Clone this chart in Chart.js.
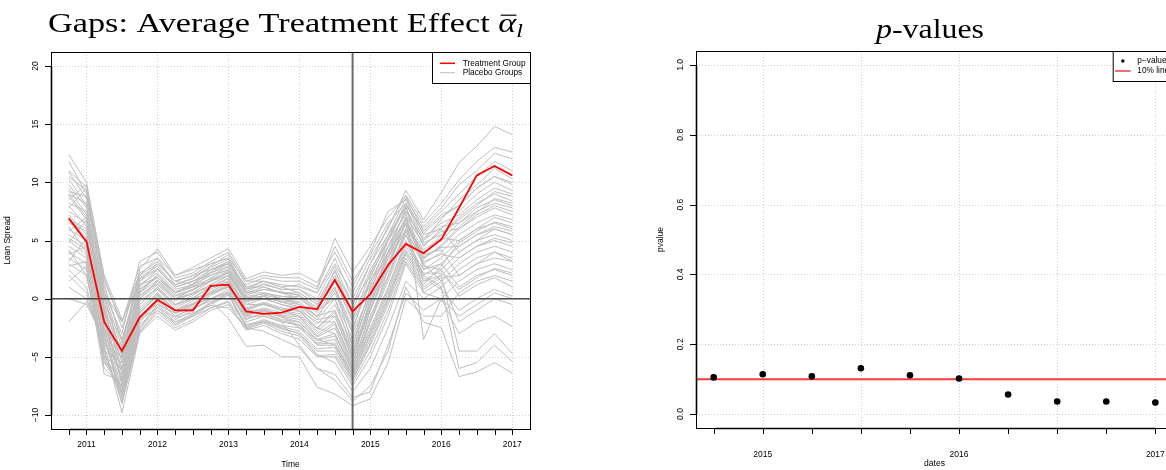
<!DOCTYPE html>
<html>
<head>
<meta charset="utf-8">
<script src="https://cdn.jsdelivr.net/npm/chart.js@4.4.0/dist/chart.umd.min.js"></script>
<style>
  html, body { margin:0; padding:0; background:#fff; overflow:hidden; width:1166px; height:470px; }
  #gapChart { position:absolute; left:0; top:0; }
  #pvalChart { position:absolute; left:583px; top:0; }
</style>
</head>
<body>
<canvas id="gapChart" width="583" height="470"></canvas>
<canvas id="pvalChart" width="620" height="470"></canvas>
<script>
/* ===== data: gaps panel ===== */
const quarters = [2010.75, 2011, 2011.25, 2011.5, 2011.75, 2012, 2012.25, 2012.5, 2012.75, 2013, 2013.25, 2013.5, 2013.75,
                  2014, 2014.25, 2014.5, 2014.75, 2015, 2015.25, 2015.5, 2015.75, 2016, 2016.25, 2016.5, 2016.75, 2017];
const treatment = [6.9, 4.9, -2.0, -4.5, -1.6, -0.1, -1.0, -1.0, 1.1, 1.2, -1.1, -1.3, -1.2,
                   -0.7, -0.9, 1.6, -1.1, 0.4, 2.9, 4.7, 3.9, 5.1, 7.8, 10.6, 11.4, 10.6];
const placebo = [
  [12.4,10.0, 1.8,-2.5, 2.0, 3.0, 1.5, 2.0, 3.0, 3.5, 0.8, 1.5, 1.0, 1.2, 0.5, 3.0, 0.5, 3.5, 6.0, 9.3, 6.8, 9.1,11.7,13.1,14.8,14.1],
  [11.8, 9.0, 1.0,-3.5, 1.5, 2.5, 1.0, 1.5, 2.5, 3.0, 0.5, 1.0, 0.5, 0.5,-0.5, 2.0,-1.0, 2.5, 5.0, 8.0, 6.0, 7.5, 9.0,10.5,11.8,11.0],
  [10.9, 8.6, 0.5,-4.2, 0.8, 2.0, 0.5, 1.0, 2.2, 2.8, 0.0, 0.5, 0.2, 0.0,-1.2, 1.0,-2.5, 1.5, 4.5, 7.5, 5.0, 6.8, 8.5, 9.8,11.2,10.3],
  [10.3, 8.0, 0.0,-5.0, 0.2, 1.5, 0.0, 0.8, 1.8, 2.5,-0.3, 0.2,-0.3,-0.5,-1.8, 0.0,-3.5, 0.8, 4.0, 7.8, 4.5, 6.0, 7.5, 9.0,10.0, 9.3],
  [ 9.8, 7.8,-0.5,-5.5, 0.0, 1.2,-0.2, 0.5, 1.5, 2.2,-0.5, 0.0,-0.5,-0.8,-2.2,-0.5,-4.0, 0.2, 3.5, 7.0, 4.8, 5.5, 7.0, 8.2, 9.0, 8.4],
  [ 9.5, 7.2,-1.0,-6.0,-0.5, 1.0,-0.5, 0.3, 1.2, 2.0,-0.8,-0.3,-0.8,-1.0,-2.5,-1.0,-4.5,-0.5, 3.0, 6.5, 4.0, 5.0, 6.5, 7.8, 8.5, 8.0],
  [ 9.0, 8.2,-0.8,-6.5,-0.8, 0.8,-0.8, 0.0, 1.0, 1.8,-1.0,-0.5,-1.0,-1.3,-2.8,-1.5,-5.0,-1.0, 2.5, 6.8, 3.5, 4.5, 6.0, 7.2, 8.0, 7.5],
  [ 8.8, 6.8,-1.5,-7.0,-1.0, 0.5,-1.0,-0.2, 0.8, 1.5,-1.2,-0.8,-1.2,-1.5,-3.0,-2.0,-5.5,-1.5, 2.0, 6.0, 3.8, 5.5, 6.8, 8.0, 9.2, 8.8],
  [ 8.2, 7.5,-1.2,-7.5,-1.2, 0.2,-1.2,-0.5, 0.5, 1.2,-1.5,-1.0,-1.5,-1.8,-3.3,-2.5,-6.0,-2.0, 1.5, 5.5, 3.0, 4.0, 5.5, 6.5, 7.2, 6.8],
  [ 8.0, 6.2,-2.0,-8.0,-1.5, 0.0,-1.5,-0.8, 0.3, 1.0,-1.8,-1.2,-1.8,-2.0,-3.5,-3.0,-6.3,-2.5, 1.0, 5.0, 2.5, 3.5, 5.0, 6.0, 7.0, 6.5],
  [ 7.5, 6.5,-2.5,-8.5,-2.0,-0.3,-1.8,-1.0, 0.0, 0.8,-2.0,-1.5,-2.0,-2.3,-3.8,-3.5,-6.5,-3.0, 0.5, 4.5, 2.0, 3.0, 4.5, 5.5, 6.2, 5.8],
  [ 7.2, 5.5,-3.0,-9.0,-2.5,-0.5,-2.0,-1.3,-0.3, 0.5,-2.3,-1.8,-2.3,-2.5,-4.0,-4.0,-6.8,-3.5, 0.0, 4.0, 1.5, 2.5, 4.0, 5.0, 5.5, 5.0],
  [ 6.5, 5.8,-3.5,-8.5,-2.8,-1.0,-2.3,-1.5,-0.5, 0.3,-2.5,-2.0,-2.5,-3.0,-4.5,-4.5,-7.0,-4.0,-0.5, 3.5, 1.0, 2.0, 3.5, 4.5, 5.0, 4.5],
  [ 6.0, 5.0,-4.0,-9.8,-3.0,-1.5,-2.7,-2.0,-1.0,-0.5,-2.7,-2.3,-3.0,-3.5,-5.0,-5.0,-7.5,-5.0,-1.5, 3.0, 0.5, 1.5, 3.0, 4.0, 4.5, 4.0],
  [ 5.5, 4.5,-4.5,-8.8,-2.2,-1.0,-2.0,-1.5,-0.8,-0.2,-2.2,-2.0,-2.6,-3.0,-4.8,-5.5,-8.0,-6.0,-2.5, 1.5, 0.0, 1.0, 2.5, 3.5, 4.0, 3.5],
  [ 5.0, 3.8,-5.0,-8.2,-1.8,-0.8,-1.6,-1.2,-0.6,-0.8,-2.5,-2.8,-3.5,-4.2,-6.0,-6.5,-8.5,-8.0,-4.0, 0.5,-1.0, 0.0, 1.5, 2.5, 3.0, 2.5],
  [ 4.5, 3.5,-5.5,-7.8,-1.5,-0.5,-1.2,-0.8,-0.2,-1.7,-4.1,-4.0,-5.0,-5.0,-7.6,-8.2,-9.2,-8.6,-5.5, 0.0,-1.5,-1.5, 0.5, 1.5, 2.0, 1.5],
  [ 4.0, 3.0,-6.0,-7.5,-1.0, 0.5,-1.0,-0.5, 0.0, 0.5,-1.5,-1.5,-2.0,-4.0,-6.0,-7.0,-8.8,-7.5,-4.5, 1.0,-2.0,-2.5,-6.7,-6.3,-5.5,-6.4],
  [ 3.5, 2.5,-6.5,-7.0,-0.5, 1.0,-0.5, 0.0, 0.5, 1.0,-1.0,-1.0,-1.5,-2.5,-3.5,-4.0,-6.5,-2.0, 2.5, 5.5, 2.0, 1.0,-6.0,-5.5,-4.0,-5.4],
  [ 3.0, 2.0,-5.5,-6.5, 0.0, 1.5, 0.0, 0.5, 1.0, 1.5,-0.5,-0.5,-1.0,-1.5,-2.5,-3.0,-6.0,-1.0, 3.0, 6.0, 1.5, 2.0,-4.5,-4.5,-3.0,-4.7],
  [ 2.5, 1.0,-5.0,-6.0, 0.5, 2.0, 0.5, 1.0, 1.5, 2.0, 0.0, 0.0,-0.5,-1.0,-2.0,-2.0,-5.5,-0.5, 3.5, 6.5, 0.5, 0.0,-3.0,-2.0,-1.5,-2.4],
  [ 2.0, 0.5,-4.5,-5.5, 1.0, 2.5, 1.0, 1.5, 2.0, 2.5, 0.5, 0.5, 0.0,-0.5,-1.5,-1.0,-5.0, 0.0, 4.0, 7.0, 3.0, 1.5,-2.0,-1.0, 0.0,-0.5],
  [ 1.0, 0.0,-4.0,-5.0, 1.5, 3.0, 1.5, 2.0, 2.5, 3.0, 1.0, 1.0, 0.5, 0.0,-1.0, 0.0,-4.5, 0.5, 4.5, 7.5,-3.5, 0.0,-1.5,-0.5, 0.5, 0.0],
  [ 0.0,-0.5,-3.5,-4.5, 2.0, 3.5, 2.0, 2.5, 3.0, 3.5, 1.5, 1.5, 1.0, 0.5,-0.5, 1.0,-4.0, 1.0, 5.0, 8.0, 2.5, 3.0, 1.0, 2.0, 2.5, 2.0],
  [-2.0,-0.3,-3.0,-4.0, 2.5, 4.3, 2.0, 2.7, 3.5, 4.3, 1.7, 2.3, 2.0, 2.2, 1.4, 4.0, 1.0, 4.0, 7.5, 8.5, 5.5, 6.0, 4.0, 5.0, 6.0, 5.5],
  [ 9.2, 8.8, 0.5,-3.0, 3.2, 4.0, 1.8, 2.2, 3.2, 4.0, 1.5, 2.0, 1.8, 1.8, 1.0, 5.2, 2.3, 4.5, 7.0, 8.8, 5.8, 7.2, 8.0, 9.5,10.5, 9.8],
  [ 7.8, 9.5, 1.5,-2.0, 2.8, 3.5, 1.2, 1.8, 2.8, 3.8, 1.2, 1.8, 1.5, 1.5, 0.8, 4.5, 1.5, 3.8, 6.5, 8.2, 5.2, 6.5, 7.2, 8.5, 9.5, 9.0],
  [ 6.8, 6.0, 0.5,-2.0, 2.2, 3.2, 1.5, 1.2, 2.5, 3.2, 1.0, 1.5, 1.2, 1.0, 0.5, 3.5, 0.0, 3.0, 5.5, 7.8, 5.0, 6.2, 6.5, 7.5, 8.2, 7.8],
  [ 5.8, 7.0,-0.5,-3.5, 1.8, 2.8, 1.0, 1.5, 2.2, 3.0, 0.8, 1.2, 0.8, 0.8, 0.0, 2.8,-0.5, 2.0, 5.0, 7.2, 4.6, 5.8, 6.0, 7.0, 7.8, 7.2],
  [ 4.8, 6.8,-1.0,-4.5, 1.2, 2.2, 0.8, 1.2, 2.0, 2.7, 0.5, 0.8, 0.5, 0.3,-0.8, 2.5,-1.5, 1.5, 4.5, 6.8, 4.2, 5.2, 5.0, 6.0, 6.5, 6.0],
  [ 3.8, 4.5,-2.0,-5.2, 0.8, 1.8, 0.3, 0.8, 1.5, 2.4, 0.2, 0.4, 0.2, 0.2,-1.0, 1.5,-2.0, 1.2, 4.0, 6.3, 3.6, 4.4, 4.5, 5.5, 6.0, 5.5],
  [ 3.2, 5.2,-2.5,-6.0, 0.3, 1.3, 0.0, 0.4, 1.2, 2.0,-0.2, 0.0,-0.2,-0.3,-1.5, 0.5,-3.0, 0.5, 3.5, 5.8, 3.2, 3.8, 3.5, 4.5, 5.2, 4.8],
  [ 8.5, 9.8, 2.0,-1.8, 1.2, 1.8, 0.5, 1.3, 2.3, 3.2, 0.3, 0.8, 0.6, 0.3,-0.8, 1.8,-1.8, 2.2, 5.5, 8.6, 6.2, 7.8, 9.8,11.0,12.5,12.0],
  [10.5, 9.3, 0.2,-4.8, 0.5, 1.6, 0.2, 0.7, 1.6, 2.3,-0.2, 0.3, 0.0,-0.3,-1.6, 0.8,-2.8, 1.8, 5.2, 8.2, 5.6, 7.0, 8.0, 9.5,10.5,10.0],
  [ 9.0, 7.0,-1.8,-7.2,-1.3, 0.4,-1.3,-0.6, 0.6, 1.4,-1.4,-0.9,-1.4,-1.6,-3.2,-2.2,-5.8,-1.8, 1.8, 5.8, 3.4, 4.6, 6.2, 7.4, 8.6, 8.2],
  [ 7.0, 5.2,-3.2,-8.2,-2.6,-0.7,-2.2,-1.4,-0.4, 0.4,-2.4,-1.9,-2.4,-2.8,-4.3,-4.2,-6.9,-3.8,-0.2, 3.8, 1.2, 2.8, 4.8, 5.8, 6.6, 6.2],
  [ 5.2, 4.2,-4.2,-9.0,-2.9,-1.2,-2.5,-1.8,-0.8,-0.3,-2.6,-2.1,-2.8,-3.2,-4.9,-4.8,-7.2,-4.5,-1.0, 3.2, 0.8, 1.8, 2.0, 3.0, 3.5, 3.2],
  [ 1.5, 2.8,-3.8,-6.2, 0.6, 2.0, 0.6, 1.1, 1.7, 2.2, 0.1, 0.2,-0.3,-0.7,-1.8,-1.5,-5.2,-0.3, 3.8, 6.8, 2.8, 2.5, 0.2, 1.2, 1.8, 1.0],
  [ 6.2, 4.0,-2.8,-6.8,-0.2, 0.9,-0.6, 0.1, 1.0, 1.7,-0.9,-0.4,-0.9,-1.1,-2.6,-1.2,-4.8,-0.8, 2.8, 6.5, 3.8, 4.2, 2.0, 3.0, 4.0, 3.2],
  [ 4.2, 2.0,-4.8,-7.6,-1.8,-0.2,-1.5,-0.9, 0.0, 0.6,-1.7,-1.3,-1.9,-2.2,-3.9,-3.8,-6.6,-3.2, 0.2, 4.2, 1.8, 0.8,-1.0, 0.0, 0.8, 0.2],
  [11.0, 9.6, 1.2,-3.8, 1.7, 2.6, 1.2, 1.7, 2.7, 3.4, 0.6, 1.3, 0.8, 0.8,-0.3, 2.3,-0.5, 3.0, 6.2, 8.9, 6.5, 8.2,10.2,11.8,13.0,12.6],
  [ 2.8, 3.2,-5.2,-8.0,-1.2, 0.3,-1.0,-0.4, 0.4, 1.1,-1.3,-1.1,-1.6,-2.0,-3.6,-3.2,-6.2,-2.8, 0.8, 4.8, 2.2, 2.2, 0.8, 1.8, 2.6, 2.2],
];
const treatmentStart = 2014.75;
const gapYTicks = [-10, -5, 0, 5, 10, 15, 20];
const gapYLabels = ['\u221210', '\u22125', '0', '5', '10', '15', '20'];
const gapYears = [2011, 2012, 2013, 2014, 2015, 2016, 2017];

/* ===== data: p-value panel ===== */
const pvalDates = [2014.75, 2015, 2015.25, 2015.5, 2015.75, 2016, 2016.25, 2016.5, 2016.75, 2017];
const pvalues = [0.105, 0.114, 0.108, 0.131, 0.111, 0.102, 0.056, 0.036, 0.036, 0.033];
const tenPct = 0.1;
const pvalYTicks = [0, 0.2, 0.4, 0.6, 0.8, 1.0];
const pvalYLabels = ['0.0', '0.2', '0.4', '0.6', '0.8', '1.0'];
const pvalYears = [2015, 2016, 2017];
const pvalGridX = [2015, 2015.5, 2016, 2016.5, 2017];

const SANS = '"Liberation Sans", Arial, sans-serif';
const SERIF = '"Liberation Serif", "DejaVu Serif", serif';

function seg(ctx, x1, y1, x2, y2) {
  ctx.beginPath(); ctx.moveTo(x1, y1); ctx.lineTo(x2, y2); ctx.stroke();
}

// title with mixed roman / italic pieces, stretched to the target width
function drawTitle(ctx, t) {
  const font = p => `${p.it ? 'italic ' : ''}${p.sub ? t.size * 0.7 : t.size}px ${SERIF}`;
  let total = 0;
  t.parts.forEach(p => { ctx.font = font(p); p.w = ctx.measureText(p.text).width; total += p.w; });
  const sx = t.width / total;
  ctx.save();
  ctx.translate(t.left, t.baseline);
  ctx.scale(sx, 1);
  ctx.fillStyle = '#000'; ctx.strokeStyle = '#000';
  ctx.textAlign = 'left'; ctx.textBaseline = 'alphabetic';
  let cx = 0;
  t.parts.forEach(p => {
    ctx.font = font(p);
    ctx.fillText(p.text, cx, p.sub ? t.size * 0.17 : 0);
    if (p.bar) { ctx.lineWidth = 1.2; seg(ctx, cx + 2, -t.size * 0.6, cx + p.w, -t.size * 0.6); }
    cx += p.w;
  });
  ctx.restore();
}

// ── R-like axes, grid, legend, titles ──
const rStyle = {
  id: 'rStyle',
  beforeDatasetsDraw(chart, args, o) {
    const { ctx, chartArea: a, scales: { x, y } } = chart;
    ctx.save();
    ctx.strokeStyle = '#cfcfcf'; ctx.lineWidth = 1; ctx.setLineDash([1, 2]);
    o.gridX.forEach(v => { const p = Math.round(x.getPixelForValue(v)) + 0.5; seg(ctx, p, a.top, p, a.bottom); });
    o.gridY.forEach(v => { const p = Math.round(y.getPixelForValue(v)) + 0.5; seg(ctx, a.left, p, a.right, p); });
    ctx.setLineDash([]);
    if (o.hline) {
      ctx.strokeStyle = o.hline.color; ctx.lineWidth = o.hline.width;
      const p = y.getPixelForValue(o.hline.value);
      seg(ctx, a.left, p, a.right, p);
    }
    ctx.restore();
  },
  afterDatasetDraw(chart, args, o) {
    if (!o.refLines || args.index !== 1) return;
    const { ctx, chartArea: a, scales: { x, y } } = chart;
    ctx.save();
    ctx.strokeStyle = '#4a4a4a'; ctx.lineWidth = 1.6;
    const py = y.getPixelForValue(0);
    seg(ctx, a.left, py, a.right, py);
    ctx.strokeStyle = '#6a6a6a'; ctx.lineWidth = 2;
    const px = x.getPixelForValue(o.refLines.x);
    seg(ctx, px, a.top, px, a.bottom);
    ctx.restore();
  },
  afterDraw(chart, args, o) {
    const { ctx, chartArea: a, scales: { x, y } } = chart;
    ctx.save();
    ctx.strokeStyle = '#000'; ctx.fillStyle = '#000'; ctx.lineWidth = 1;
    ctx.strokeRect(a.left + 0.5, a.top + 0.5, a.right - a.left, a.bottom - a.top);

    // x axis
    const xt = o.xTicks.map(v => Math.round(x.getPixelForValue(v)) + 0.5);
    ctx.lineWidth = 1.6;
    seg(ctx, xt[0], a.bottom + 0.5, xt[xt.length - 1], a.bottom + 0.5);
    ctx.lineWidth = 1;
    xt.forEach(p => seg(ctx, p, a.bottom, p, a.bottom + 6));
    ctx.font = `8.5px ${SANS}`; ctx.textAlign = 'center'; ctx.textBaseline = 'middle';
    o.xLabels.forEach(v => ctx.fillText(String(v), x.getPixelForValue(v), o.xLabelY));

    // y axis
    const yt = o.yTicks.map(v => Math.round(y.getPixelForValue(v)) + 0.5);
    ctx.lineWidth = 1.6;
    seg(ctx, a.left + 0.5, yt[0], a.left + 0.5, yt[yt.length - 1]);
    ctx.lineWidth = 1;
    yt.forEach(p => seg(ctx, a.left - 6, p, a.left, p));
    o.yTicks.forEach((v, i) => {
      ctx.save();
      ctx.translate(o.yLabelX, y.getPixelForValue(v));
      ctx.rotate(-Math.PI / 2);
      ctx.fillText(o.yLabels[i], 0, 0);
      ctx.restore();
    });

    // axis titles
    ctx.fillText(o.xTitle, (a.left + a.right) / 2, o.xTitleY);
    ctx.save();
    ctx.translate(o.yTitleX, (a.top + a.bottom) / 2);
    ctx.rotate(-Math.PI / 2);
    ctx.fillText(o.yTitle, 0, 0);
    ctx.restore();

    // legend box
    const L = o.legend;
    ctx.fillStyle = '#fff';
    ctx.fillRect(L.left, a.top + 1, a.right - L.left, L.bottom - a.top - 1);
    ctx.strokeStyle = '#000'; ctx.lineWidth = 1;
    ctx.strokeRect(L.left + 0.5, a.top + 0.5, a.right - L.left, L.bottom - a.top);
    ctx.font = `8.3px ${SANS}`; ctx.textAlign = 'left';
    L.items.forEach(it => {
      if (it.type === 'line') {
        ctx.strokeStyle = it.color; ctx.lineWidth = it.width;
        seg(ctx, L.symX1, it.y, L.symX2, it.y);
      } else {
        ctx.fillStyle = it.color;
        ctx.beginPath(); ctx.arc((L.symX1 + L.symX2) / 2, it.y, 1.7, 0, Math.PI * 2); ctx.fill();
      }
      ctx.fillStyle = '#000';
      ctx.fillText(it.label, L.textX, it.y);
    });
    ctx.restore();

    drawTitle(ctx, o.title);
  }
};

// ── Gaps chart ──
const gapSets = [{
  data: quarters.map((q, i) => ({ x: q, y: treatment[i] })),
  borderColor: '#ff0000', borderWidth: 1.8, pointRadius: 0, tension: 0,
}].concat(placebo.map(s => ({
  data: quarters.map((q, i) => ({ x: q, y: s[i] })),
  borderColor: '#bebebe', borderWidth: 1, pointRadius: 0, tension: 0,
})));

new Chart(document.getElementById('gapChart'), {
  type: 'line',
  data: { datasets: gapSets },
  options: {
    responsive: false, animation: false,
    layout: { padding: { left: 51, right: 53, top: 52, bottom: 41 } },
    scales: {
      x: { type: 'linear', display: false, min: 2010.5, max: 2017.25 },
      y: { type: 'linear', display: false, min: -11.2, max: 21.2 },
    },
    plugins: {
      legend: { display: false }, tooltip: { enabled: false },
      rStyle: {
        gridX: gapYears, gridY: gapYTicks,
        refLines: { x: treatmentStart },
        xTicks: quarters, xLabels: gapYears, xLabelY: 445,
        yTicks: gapYTicks, yLabels: gapYLabels, yLabelX: 36,
        xTitle: 'Time', xTitleY: 465, yTitle: 'Loan Spread', yTitleX: 8,
        legend: {
          left: 432, bottom: 83, symX1: 440, symX2: 455, textX: 462.7,
          items: [
            { label: 'Treatment Group', type: 'line', color: '#ff0000', width: 1.5, y: 63.3 },
            { label: 'Placebo Groups', type: 'line', color: '#bebebe', width: 1, y: 72.7 },
          ],
        },
        title: {
          left: 48, width: 475, baseline: 32, size: 28,
          parts: [
            { text: 'Gaps: Average Treatment Effect ' },
            { text: '\u03b1', it: true, bar: true },
            { text: 'l', it: true, sub: true },
          ],
        },
      },
    },
  },
  plugins: [rStyle],
});

// ── p-value chart ──
new Chart(document.getElementById('pvalChart'), {
  type: 'scatter',
  data: {
    datasets: [{
      data: pvalDates.map((d, i) => ({ x: d, y: pvalues[i] })),
      backgroundColor: '#000', borderWidth: 0, pointRadius: 3.3, showLine: false,
    }],
  },
  options: {
    responsive: false, animation: false,
    layout: { padding: { left: 113, right: 30, top: 51, bottom: 42 } },
    scales: {
      x: { type: 'linear', display: false, min: 2014.66, max: 2017.09 },
      y: { type: 'linear', display: false, min: -0.04, max: 1.04 },
    },
    plugins: {
      legend: { display: false }, tooltip: { enabled: false },
      rStyle: {
        gridX: pvalGridX, gridY: pvalYTicks,
        hline: { value: tenPct, color: '#f43c3c', width: 2 },
        xTicks: pvalDates, xLabels: pvalYears, xLabelY: 455,
        yTicks: pvalYTicks, yLabels: pvalYLabels, yLabelX: 97.7,
        xTitle: 'dates', xTitleY: 464, yTitle: 'pvalue', yTitleX: 77.7,
        legend: {
          left: 529.7, bottom: 81, symX1: 532, symX2: 547.7, textX: 554.3,
          items: [
            { label: 'p\u2212value', type: 'point', color: '#000', y: 61 },
            { label: '10% line', type: 'line', color: '#f43c3c', width: 1.5, y: 71 },
          ],
        },
        title: {
          left: 293, width: 108, baseline: 38, size: 28,
          parts: [
            { text: 'p', it: true },
            { text: '-values' },
          ],
        },
      },
    },
  },
  plugins: [rStyle],
});
</script>
</body>
</html>
